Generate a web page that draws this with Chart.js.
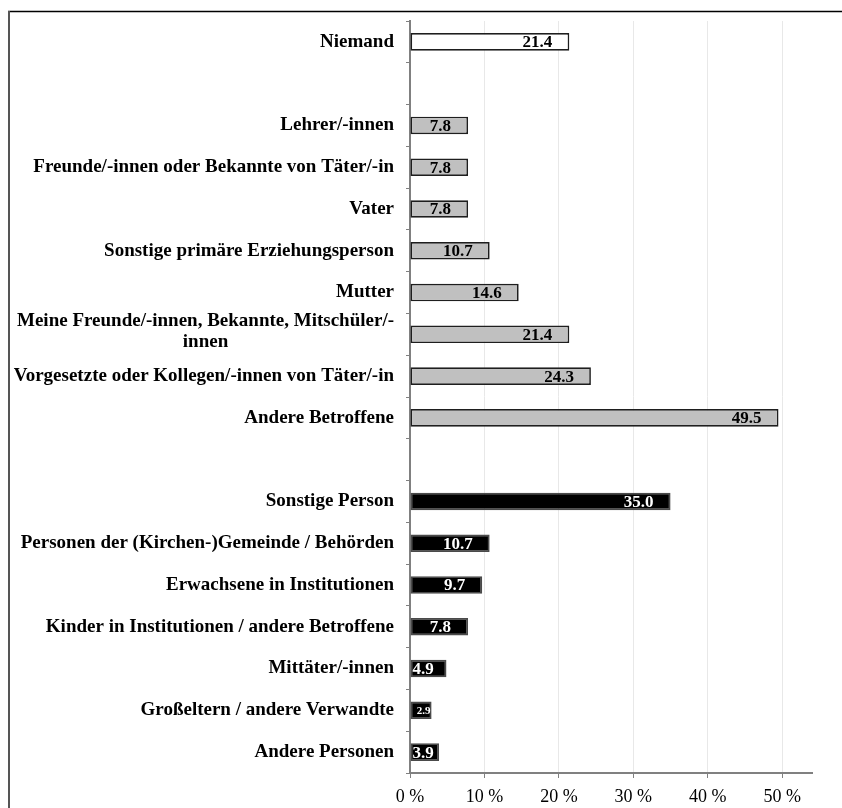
<!DOCTYPE html>
<html>
<head>
<meta charset="utf-8">
<script src="https://cdn.jsdelivr.net/npm/chart.js@4.4.0/dist/chart.umd.min.js"></script>
<style>
  html, body { margin: 0; padding: 0; background: #fff; }
  #wrap { width: 842px; height: 808px; }
</style>
</head>
<body>
<div id="wrap"><canvas id="helpChart" width="842" height="808"></canvas></div>
<script>
const niemandLabels = ['Niemand'];
const niemandValues = [21.4];

const nahLabels = [
    'Lehrer/-innen',
    'Freunde/-innen oder Bekannte von Täter/-in',
    'Vater',
    'Sonstige primäre Erziehungsperson',
    'Mutter',
    ['Meine Freunde/-innen, Bekannte, Mitschüler/-', 'innen'],
    'Vorgesetzte oder Kollegen/-innen von Täter/-in',
    'Andere Betroffene'
];
const nahValues = [7.8, 7.8, 7.8, 10.7, 14.6, 21.4, 24.3, 49.5];

const andereLabels = [
    'Sonstige Person',
    'Personen der (Kirchen-)Gemeinde / Behörden',
    'Erwachsene in Institutionen',
    'Kinder in Institutionen / andere Betroffene',
    'Mittäter/-innen',
    'Großeltern / andere Verwandte',
    'Andere Personen'
];
const andereValues = [35.0, 10.7, 9.7, 7.8, 4.9, 2.9, 3.9];

const xTicks = [0, 10, 20, 30, 40, 50];

document.addEventListener('DOMContentLoaded', () => {
    const ctx = document.getElementById('helpChart').getContext('2d');
    const serif = '"Liberation Serif", "Times New Roman", serif';

    // groups separated by an empty row
    const labels = [...niemandLabels, '', ...nahLabels, '', ...andereLabels];
    const values = [...niemandValues, null, ...nahValues, null, ...andereValues];
    const fills = [
        ...niemandValues.map(() => '#ffffff'), null,
        ...nahValues.map(() => '#c0c0c0'), null,
        ...andereValues.map(() => '#000000')
    ];
    const borders = fills.map(c => c === '#000000' ? '#4a4a4a' : '#1e1e1e');
    const textColors = fills.map(c => c === '#000000' ? '#ffffff' : '#000000');

    const framePlugin = {
        id: 'frame',
        beforeDraw(chart) {
            const c = chart.ctx;
            c.save();
            c.fillStyle = '#fff';
            c.fillRect(0, 0, chart.width, chart.height);
            c.strokeStyle = '#000';
            c.lineWidth = 1.5;
            c.beginPath();
            c.moveTo(8, 11.5);
            c.lineTo(chart.width, 11.5);
            c.stroke();
            c.strokeStyle = '#555';
            c.lineWidth = 2;
            c.beginPath();
            c.moveTo(9, 11);
            c.lineTo(9, chart.height);
            c.stroke();
            c.restore();
        }
    };

    const labelPlugin = {
        id: 'labels',
        afterDraw(chart) {
            const c = chart.ctx;
            const yScale = chart.scales.y;
            c.save();
            c.textBaseline = 'middle';
            c.textAlign = 'center';
            c.fillStyle = '#000';
            c.font = 'bold 19px ' + serif;
            labels.forEach((label, i) => {
                if (!label) return;
                const lines = Array.isArray(label) ? label : [label];
                const y = yScale.getPixelForValue(i);
                const blockW = Math.max(...lines.map(l => c.measureText(l).width));
                const left = Math.max(11, 394 - blockW);
                lines.forEach((line, j) => {
                    c.fillText(line, left + blockW / 2, y + (j - (lines.length - 1) / 2) * 21 - (lines.length > 1 ? 3 : 0));
                });
            });

            // value labels inside the bars
            const meta = chart.getDatasetMeta(0);
            c.textAlign = 'right';
            meta.data.forEach((bar, i) => {
                const v = values[i];
                if (v === null) return;
                const text = v.toFixed(1);
                c.font = 'bold 17px ' + serif;
                let w = c.measureText(text).width;
                const barW = bar.x - bar.base;
                let right;
                if (w + 4 > barW) {
                    c.font = 'bold 11px ' + serif;
                    right = bar.x - 1;
                } else {
                    right = Math.max(bar.x - 17, bar.base + w + 2);
                }
                c.fillStyle = textColors[i];
                c.fillText(text, right, bar.y + 1);
            });
            c.restore();
        }
    };

    new Chart(ctx, {
        type: 'bar',
        data: {
            labels: labels,
            datasets: [{
                data: values,
                backgroundColor: fills,
                borderColor: borders,
                borderWidth: 1.7,
                borderSkipped: false,
                barPercentage: 0.42,
                categoryPercentage: 1
            }]
        },
        options: {
            indexAxis: 'y',
            responsive: false,
            animation: false,
            layout: { padding: { top: 21, left: 10, right: 30, bottom: 0 } },
            plugins: {
                legend: { display: false },
                tooltip: { enabled: false }
            },
            scales: {
                x: {
                    min: 0,
                    max: 54,
                    afterBuildTicks: scale => { scale.ticks = xTicks.map(v => ({ value: v })); },
                    afterFit: scale => { scale.height = 35; },
                    grid: { color: '#e8e8e8', lineWidth: 1, tickColor: '#808080', tickLength: 5, drawTicks: true },
                    border: { display: true, color: '#808080', width: 2 },
                    ticks: {
                        color: '#000',
                        padding: 8,
                        font: { family: serif, size: 18 },
                        callback: value => value + ' %'
                    }
                },
                y: {
                    afterFit: scale => { scale.width = 400; },
                    grid: { drawOnChartArea: false, drawTicks: true, tickLength: 4, color: '#808080', offset: true },
                    border: { display: true, color: '#808080', width: 2 },
                    ticks: { display: false }
                }
            }
        },
        plugins: [framePlugin, labelPlugin]
    });
});
</script>
</body>
</html>
